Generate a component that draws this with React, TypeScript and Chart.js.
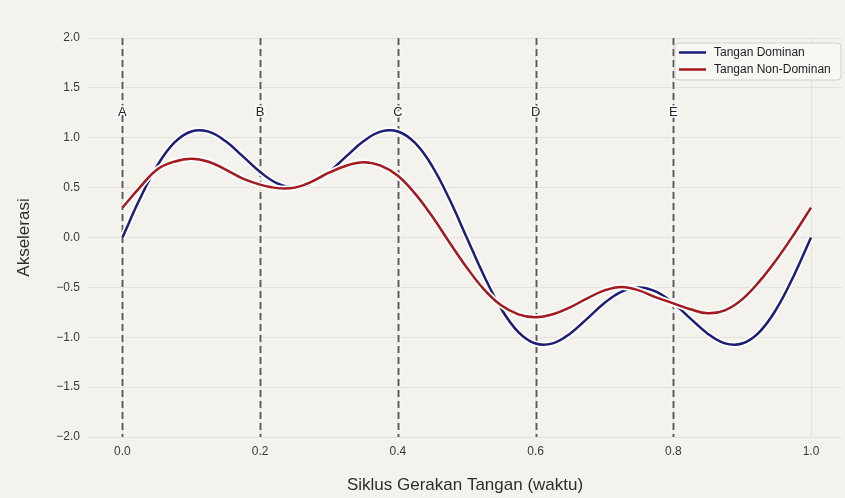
import React, { useEffect, useRef } from "react";
import { Chart, registerables } from "chart.js";

Chart.register(...registerables);

// ---- data ----
const xValues = [
  0, 0.025, 0.05, 0.075, 0.1, 0.125, 0.15, 0.175, 0.2, 0.225,
  0.25, 0.275, 0.3, 0.325, 0.35, 0.375, 0.4, 0.425, 0.45, 0.475,
  0.5, 0.525, 0.55, 0.575, 0.6, 0.625, 0.65, 0.675, 0.7, 0.725,
  0.75, 0.775, 0.8, 0.825, 0.85, 0.875, 0.9, 0.925, 0.95, 0.975, 1.0,
];
const dominant = [
  0, 0.383, 0.714, 0.948, 1.063, 1.061, 0.964, 0.813, 0.657, 0.542,
  0.5, 0.542, 0.657, 0.813, 0.964, 1.061, 1.063, 0.948, 0.714, 0.383,
  0, -0.383, -0.714, -0.948, -1.063, -1.061, -0.964, -0.813, -0.657, -0.542,
  -0.5, -0.542, -0.657, -0.813, -0.964, -1.061, -1.063, -0.948, -0.714, -0.383, 0,
];
const nonDominant = [
  0.3, 0.5, 0.68, 0.76, 0.79, 0.76, 0.68, 0.59, 0.53, 0.495,
  0.5, 0.56, 0.65, 0.72, 0.755, 0.72, 0.62, 0.44, 0.21, -0.05,
  -0.3, -0.52, -0.68, -0.77, -0.8, -0.77, -0.7, -0.61, -0.53, -0.495,
  -0.53, -0.6, -0.66, -0.72, -0.76, -0.73, -0.62, -0.44, -0.22, 0.03, 0.3,
];
const phaseX = [0, 0.2, 0.4, 0.6, 0.8];
const phaseLabels = ["A", "B", "C", "D", "E"];
const phaseLabelY = 1.25;
const xTicks = [0, 0.2, 0.4, 0.6, 0.8, 1.0];
const yTicks = [-2, -1.5, -1, -0.5, 0, 0.5, 1, 1.5, 2];
const seriesNames = ["Tangan Dominan", "Tangan Non-Dominan"];
const seriesColors = ["#1b1d78", "#a3191d"];
const xTitle = "Siklus Gerakan Tangan (waktu)";
const yTitle = "Akselerasi";

const BG = "#f3f2ed";
const GRID = "#e3e2dd";
const FONT = "'Liberation Sans', Arial, sans-serif";

const phasePlugin = {
  id: "phaseLines",
  beforeDatasetsDraw(chart: any) {
    const { ctx, chartArea, scales } = chart;
    ctx.save();
    phaseX.forEach((v) => {
      const px = Math.round(scales.x.getPixelForValue(v)) + 0.5;
      ctx.setLineDash([7, 4]);
      ctx.strokeStyle = "rgba(255,255,255,0.9)";
      ctx.lineWidth = 4;
      ctx.beginPath();
      ctx.moveTo(px, chartArea.top);
      ctx.lineTo(px, chartArea.bottom);
      ctx.stroke();
      ctx.strokeStyle = "#5a5a5a";
      ctx.lineWidth = 2;
      ctx.beginPath();
      ctx.moveTo(px, chartArea.top);
      ctx.lineTo(px, chartArea.bottom);
      ctx.stroke();
    });
    ctx.restore();
  },
  afterDatasetsDraw(chart: any) {
    const { ctx, scales } = chart;
    ctx.save();
    ctx.font = `13px ${FONT}`;
    ctx.textAlign = "center";
    ctx.textBaseline = "middle";
    phaseX.forEach((v, i) => {
      const px = scales.x.getPixelForValue(v);
      const py = scales.y.getPixelForValue(phaseLabelY);
      ctx.lineWidth = 3;
      ctx.strokeStyle = "#ffffff";
      ctx.lineJoin = "round";
      ctx.strokeText(phaseLabels[i], px, py);
      ctx.fillStyle = "#262626";
      ctx.fillText(phaseLabels[i], px, py);
    });
    ctx.restore();
  },
};

const legendPlugin = {
  id: "boxLegend",
  afterDraw(chart: any) {
    const { ctx, chartArea } = chart;
    const w = 166;
    const h = 37;
    const x = chartArea.right - 1 - w;
    const y = chartArea.top + 5;
    ctx.save();
    ctx.beginPath();
    const r = 4;
    ctx.moveTo(x + r, y);
    ctx.lineTo(x + w - r, y);
    ctx.quadraticCurveTo(x + w, y, x + w, y + r);
    ctx.lineTo(x + w, y + h - r);
    ctx.quadraticCurveTo(x + w, y + h, x + w - r, y + h);
    ctx.lineTo(x + r, y + h);
    ctx.quadraticCurveTo(x, y + h, x, y + h - r);
    ctx.lineTo(x, y + r);
    ctx.quadraticCurveTo(x, y, x + r, y);
    ctx.closePath();
    ctx.fillStyle = "rgba(247,247,243,0.95)";
    ctx.fill();
    ctx.strokeStyle = "#d2d2cd";
    ctx.lineWidth = 1;
    ctx.stroke();
    ctx.font = `12px ${FONT}`;
    ctx.textBaseline = "middle";
    ctx.textAlign = "left";
    seriesNames.forEach((name, i) => {
      const ly = y + 9.5 + i * 17;
      ctx.strokeStyle = seriesColors[i];
      ctx.lineWidth = 2.5;
      ctx.beginPath();
      ctx.moveTo(x + 4, ly);
      ctx.lineTo(x + 31, ly);
      ctx.stroke();
      ctx.fillStyle = "#1e1e1e";
      ctx.fillText(name, x + 39, ly + 0.5);
    });
    ctx.restore();
  },
};

const bgPlugin = {
  id: "bg",
  beforeDraw(chart: any) {
    const { ctx, width, height } = chart;
    ctx.save();
    ctx.fillStyle = BG;
    ctx.fillRect(0, 0, width, height);
    ctx.restore();
  },
};

export default function App() {
  const ref = useRef<HTMLCanvasElement | null>(null);

  useEffect(() => {
    document.body.style.margin = "0";
    document.body.style.background = BG;
    if (!ref.current) return;
    const mk = (arr: number[]) => xValues.map((x, i) => ({ x, y: arr[i] }));
    const chart = new Chart(ref.current, {
      type: "line",
      data: {
        datasets: [
          {
            label: "halo-d",
            data: mk(dominant),
            borderColor: "#ffffff",
            borderWidth: 6,
            pointRadius: 0,
            tension: 0.4,
            fill: false,
            order: 4,
          },
          {
            label: seriesNames[0],
            data: mk(dominant),
            borderColor: seriesColors[0],
            borderWidth: 2.5,
            pointRadius: 0,
            tension: 0.4,
            fill: false,
            order: 3,
          },
          {
            label: "halo-n",
            data: mk(nonDominant),
            borderColor: "#ffffff",
            borderWidth: 6,
            pointRadius: 0,
            tension: 0.4,
            fill: false,
            order: 2,
          },
          {
            label: seriesNames[1],
            data: mk(nonDominant),
            borderColor: seriesColors[1],
            borderWidth: 2.5,
            pointRadius: 0,
            tension: 0.4,
            fill: false,
            order: 1,
          },
        ],
      },
      options: {
        animation: false,
        responsive: true,
        maintainAspectRatio: false,
        layout: { padding: { top: 38, right: 3, left: 0, bottom: 0 } },
        plugins: {
          legend: { display: false },
          tooltip: { enabled: false },
        },
        font: { family: FONT },
        scales: {
          x: {
            type: "linear",
            min: -0.05,
            max: 1.045,
            afterBuildTicks: (s: any) => {
              s.ticks = xTicks.map((v) => ({ value: v }));
            },
            afterFit: (s: any) => {
              s.height = 61;
            },
            ticks: {
              autoSkip: false,
              maxRotation: 0,
              padding: 7,
              color: "#3a3a3a",
              font: { size: 12, family: FONT },
              callback: (v: any) => Number(v).toFixed(1),
            },
            grid: { color: GRID, drawTicks: false, lineWidth: 1 },
            border: { display: false },
            title: {
              display: true,
              text: xTitle,
              color: "#2e2e2e",
              font: { size: 17, family: FONT },
              padding: { top: 0, bottom: 2 },
            },
          },
          y: {
            type: "linear",
            min: -2,
            max: 2,
            afterBuildTicks: (s: any) => {
              s.ticks = yTicks.map((v) => ({ value: v }));
            },
            afterFit: (s: any) => {
              s.width = 88;
            },
            ticks: {
              padding: 8,
              color: "#3a3a3a",
              font: { size: 12, family: FONT },
              callback: (v: any) =>
                (Number(v) < 0 ? "\u2212" : "") + Math.abs(Number(v)).toFixed(1),
            },
            grid: { color: GRID, drawTicks: false, lineWidth: 1 },
            border: { display: false },
            title: {
              display: true,
              text: yTitle,
              color: "#2e2e2e",
              font: { size: 17, family: FONT },
              padding: { top: 14, bottom: 0 },
            },
          },
        },
      } as any,
      plugins: [bgPlugin, phasePlugin, legendPlugin],
    });
    return () => chart.destroy();
  }, []);

  return (
    <div
      style={{
        position: "fixed",
        left: 0,
        top: 0,
        width: 845,
        height: 498,
        background: BG,
      }}
    >
      <canvas ref={ref} />
    </div>
  );
}
